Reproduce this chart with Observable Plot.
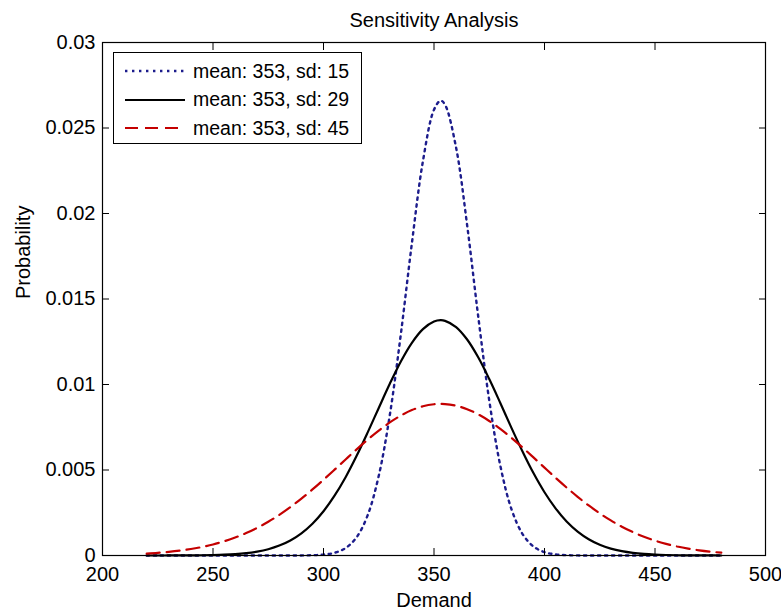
<!DOCTYPE html>
<html>
<head>
<meta charset="utf-8">
<script src="https://cdn.jsdelivr.net/npm/d3@7"></script>
<script src="https://cdn.jsdelivr.net/npm/@observablehq/plot@0.6"></script>
<style>
  body { margin: 0; background: #fff; }
  #wrap { position: relative; width: 781px; height: 609px; font-family: "Liberation Sans", Arial, sans-serif; }
  #legend { position: absolute; left: 113px; top: 52px; width: 247px; height: 90px; border: 1px solid #000; background: #fff; }
  .row { position: absolute; left: 11px; height: 28px; display: flex; align-items: center; font-size: 19.5px; color: #000; white-space: nowrap; }
  .row svg { margin-right: 8px; }
</style>
</head>
<body>
<div id="wrap"><div id="legend"></div></div>
<script>
// Demand values (x)
const demand = [220,225,230,235,240,245,250,255,260,265,270,275,280,285,290,295,300,305,310,315,320,325,330,335,340,345,350,353,355,360,365,370,375,380,385,390,395,400,405,410,415,420,425,430,435,440,445,450,455,460,465,470,475,480];
// Probability for mean 353, sd 15
const probSd15 = [0,0,0,0,0,0,0,0,0,0,0,0,0,0,0.000004,0.000015,0.000052,0.000159,0.000437,0.00107,0.00236,0.00466,0.00821,0.01295,0.01827,0.02307,0.02607,0.02660,0.02636,0.02385,0.01931,0.01399,0.00907,0.00526,0.00273,0.00127,0.000528,0.000196,0.000065,0.000019,0.000005,0,0,0,0,0,0,0,0,0,0,0,0,0];
// Probability for mean 353, sd 29
const probSd29 = [0.0000004,0.0000008,0.0000017,0.0000035,0.0000069,0.0000134,0.0000251,0.0000456,0.0000804,0.000138,0.000229,0.000369,0.000579,0.000880,0.00130,0.00186,0.00259,0.00350,0.00458,0.00583,0.00720,0.00863,0.01004,0.01135,0.01244,0.01324,0.01368,0.01376,0.01372,0.01336,0.01263,0.01159,0.01032,0.00892,0.00748,0.00610,0.00482,0.00370,0.00276,0.00199,0.00140,0.000954,0.000631,0.000405,0.000253,0.000153,0.0000898,0.0000512,0.0000283,0.0000152,0.0000079,0.0000040,0.0000020,0.0000009];
// Probability for mean 353, sd 45
const probSd45 = [0.000112,0.000155,0.000212,0.000285,0.000379,0.000498,0.000646,0.000828,0.001048,0.001310,0.001618,0.001974,0.002378,0.002830,0.003327,0.003863,0.004431,0.005019,0.005616,0.006207,0.006775,0.007305,0.007780,0.008184,0.008503,0.008726,0.008846,0.008865,0.008857,0.008759,0.008556,0.008255,0.007867,0.007405,0.006885,0.006323,0.005735,0.005138,0.004547,0.003975,0.003432,0.002926,0.002465,0.002051,0.001685,0.001368,0.001097,0.000869,0.000679,0.000525,0.000400,0.000302,0.000225,0.000165];

const seriesNames = ["mean: 353, sd: 15", "mean: 353, sd: 29", "mean: 353, sd: 45"];
const seriesColors = ["#1c1c8c", "#000000", "#c40000"];
const seriesDash = ["2.4,4.6", null, "13,7"];
const seriesWidth = [2.4, 2.2, 2.2];

const xTicks = [200, 250, 300, 350, 400, 450, 500];
const xTickLabels = ["200", "250", "300", "350", "400", "450", "500"];
const yTicks = [0, 0.005, 0.01, 0.015, 0.02, 0.025, 0.03];
const yTickLabels = ["0", "0.005", "0.01", "0.015", "0.02", "0.025", "0.03"];

const titleText = "Sensitivity Analysis";
const xLabel = "Demand";
const yLabel = "Probability";

const seriesValues = [probSd15, probSd29, probSd45];
const lineMarks = seriesValues.map((vals, s) =>
  Plot.line(demand.map((x, i) => ({x, y: vals[i]})), {
    x: "x", y: "y",
    stroke: seriesColors[s],
    strokeWidth: seriesWidth[s],
    strokeDasharray: seriesDash[s] ?? undefined,
    curve: "catmull-rom"
  })
);

const chart = Plot.plot({
  width: 781,
  height: 609,
  marginLeft: 102,
  marginRight: 16,
  marginTop: 42,
  marginBottom: 54,
  x: {domain: [200, 500]},
  y: {domain: [0, 0.03]},
  style: {fontFamily: '"Liberation Sans", Arial, sans-serif', fontSize: "20px", color: "#000", background: "#fff"},
  marks: [
    ...lineMarks,
    Plot.frame({stroke: "#000", strokeWidth: 1.2}),
    Plot.axisX({anchor: "bottom", ticks: xTicks, tickSize: -7, tickPadding: 18, tickFormat: d => xTickLabels[xTicks.indexOf(d)], label: null, fontSize: 20}),
    Plot.axisX({anchor: "top", ticks: xTicks, tickSize: -7, tickFormat: () => "", label: null}),
    Plot.axisY({anchor: "left", ticks: yTicks, tickSize: -7, tickPadding: 14, tickFormat: d => yTickLabels[yTicks.indexOf(d)], label: null, fontSize: 20}),
    Plot.axisY({anchor: "right", ticks: yTicks, tickSize: -7, tickFormat: () => "", label: null}),
    Plot.text([titleText], {text: d => d, frameAnchor: "top", dy: -16, lineAnchor: "bottom", fontSize: 20}),
    Plot.text([xLabel], {text: d => d, frameAnchor: "bottom", dy: 51, lineAnchor: "bottom", fontSize: 20}),
    Plot.text([yLabel], {text: d => d, frameAnchor: "left", dx: -73, rotate: -90, lineAnchor: "bottom", fontSize: 20})
  ]
});
document.getElementById("wrap").prepend(chart);

// Legend
const legend = document.getElementById("legend");
seriesNames.forEach((name, s) => {
  const row = document.createElement("div");
  row.className = "row";
  row.style.top = (4 + s * 28.5) + "px";
  const dash = seriesDash[s] ? `stroke-dasharray="${seriesDash[s]}"` : "";
  row.innerHTML = `<svg width="60" height="10"><line x1="0" y1="5" x2="60" y2="5" stroke="${seriesColors[s]}" stroke-width="${seriesWidth[s]}" ${dash}/></svg><span>${name}</span>`;
  legend.appendChild(row);
});
</script>
</body>
</html>
